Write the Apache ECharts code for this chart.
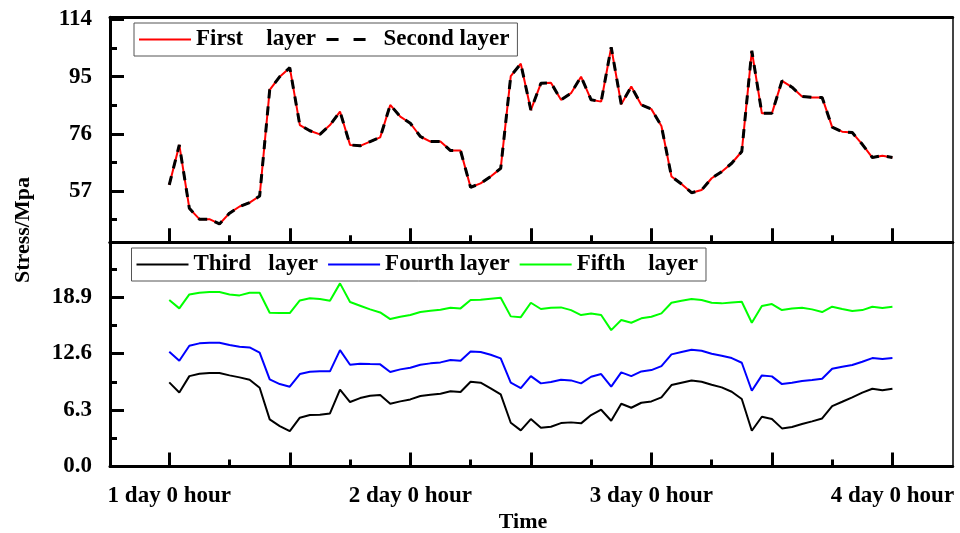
<!DOCTYPE html>
<html>
<head>
<meta charset="utf-8">
<script src="https://cdn.jsdelivr.net/npm/echarts@6/dist/echarts.min.js"></script>
<style>
  html, body { margin: 0; padding: 0; background: #fff; }
  #chart { width: 960px; height: 533px; }
</style>
</head>
<body>
<div id="chart"></div>
<script>
// Hourly stress readings over three days, five layers.
const hours = Array.from({ length: 73 }, (_, i) => i);

const firstLayer = [
  59.0, 72.3, 51.2, 47.6, 47.6, 46.0, 49.6, 51.8, 53.1, 55.3,
  90.6, 95.0, 98.0, 78.9, 77.0, 75.8, 78.9, 83.4, 72.3, 72.0,
  73.4, 74.8, 85.6, 81.7, 79.5, 75.1, 73.4, 73.4, 70.4, 70.4,
  58.2, 59.5, 61.8, 64.5, 95.2, 99.3, 83.9, 92.8, 93.0, 87.3,
  89.5, 95.0, 87.3, 86.7, 104.8, 85.8, 91.7, 85.6, 84.2, 78.6,
  61.8, 59.3, 56.4, 57.3, 61.2, 63.4, 66.2, 70.1, 103.6, 82.8,
  82.8, 93.6, 91.5, 88.4, 88.1, 88.1, 78.2, 76.7, 76.4, 72.5,
  68.1, 68.7, 68.1
];
const secondLayer = [
  59.0, 72.3, 51.2, 47.6, 47.6, 46.0, 49.6, 51.8, 53.1, 55.3,
  90.6, 95.0, 98.0, 78.9, 77.0, 75.8, 78.9, 83.4, 72.3, 72.0,
  73.4, 74.8, 85.6, 81.7, 79.5, 75.1, 73.4, 73.4, 70.4, 70.4,
  58.2, 59.5, 61.8, 64.5, 95.2, 99.3, 83.9, 92.8, 93.0, 87.3,
  89.5, 95.0, 87.3, 86.7, 104.8, 85.8, 91.7, 85.6, 84.2, 78.6,
  61.8, 59.3, 56.4, 57.3, 61.2, 63.4, 66.2, 70.1, 103.6, 82.8,
  82.8, 93.6, 91.5, 88.4, 88.1, 88.1, 78.2, 76.7, 76.4, 72.5,
  68.1, 68.7, 68.1
];
const thirdLayer = [
  9.38, 8.26, 10.08, 10.34, 10.42, 10.42, 10.16, 9.94, 9.68, 8.78,
  5.25, 4.51, 3.95, 5.44, 5.74, 5.77, 5.92, 8.56, 7.19, 7.63,
  7.89, 7.97, 7.00, 7.26, 7.48, 7.86, 8.00, 8.12, 8.38, 8.30,
  9.45, 9.34, 8.71, 8.04, 4.88, 4.03, 5.29, 4.32, 4.43, 4.84,
  4.92, 4.81, 5.74, 6.33, 5.10, 7.00, 6.55, 7.11, 7.26, 7.71,
  9.08, 9.34, 9.60, 9.45, 9.12, 8.82, 8.34, 7.52, 3.99, 5.55,
  5.29, 4.25, 4.40, 4.73, 5.03, 5.36, 6.74, 7.22, 7.71, 8.23,
  8.67, 8.49, 8.67
];
const fourthLayer = [
  12.80, 11.79, 13.47, 13.73, 13.80, 13.80, 13.54, 13.36, 13.28, 12.69,
  9.71, 9.19, 8.90, 10.31, 10.57, 10.61, 10.61, 12.98, 11.35, 11.46,
  11.42, 11.39, 10.53, 10.83, 11.01, 11.35, 11.50, 11.61, 11.87, 11.79,
  12.83, 12.76, 12.46, 12.05, 9.34, 8.75, 10.08, 9.27, 9.42, 9.68,
  9.60, 9.27, 10.01, 10.31, 8.90, 10.49, 10.08, 10.60, 10.75, 11.20,
  12.50, 12.76, 13.02, 12.91, 12.57, 12.35, 12.09, 11.57, 8.45, 10.16,
  10.05, 9.19, 9.34, 9.53, 9.64, 9.79, 10.90, 11.12, 11.31, 11.68,
  12.09, 11.98, 12.09
];
const fifthLayer = [
  18.56, 17.63, 19.19, 19.38, 19.45, 19.45, 19.19, 19.08, 19.38, 19.38,
  17.15, 17.11, 17.11, 18.52, 18.75, 18.67, 18.49, 20.42, 18.34, 17.93,
  17.52, 17.18, 16.44, 16.70, 16.89, 17.22, 17.37, 17.48, 17.70, 17.63,
  18.56, 18.60, 18.71, 18.82, 16.74, 16.65, 18.26, 17.56, 17.70, 17.74,
  17.44, 16.89, 17.07, 16.89, 15.21, 16.33, 16.03, 16.52, 16.70, 17.07,
  18.26, 18.49, 18.67, 18.56, 18.26, 18.19, 18.30, 18.37, 16.03, 17.89,
  18.11, 17.44, 17.63, 17.70, 17.52, 17.22, 17.82, 17.56, 17.33, 17.44,
  17.82, 17.67, 17.82
];

// Axis ticks and labels
const xMajorTicks = [0, 12, 24, 36, 48, 60, 72];
const xMinorTicks = [6, 18, 30, 42, 54, 66];
const xLabelHours = [0, 24, 48, 72];
const xLabelTexts = ['1 day 0 hour', '2 day 0 hour', '3 day 0 hour', '4 day 0 hour'];
const upperMajorTicks = [57, 76, 95, 114];
const upperMinorTicks = [47.5, 66.5, 85.5, 104.5];
const lowerMajorTicks = [0, 6.3, 12.6, 18.9];
const lowerMinorTicks = [3.15, 9.45, 15.75, 22.05];

const seriesNames = ['First    layer', 'Second layer', 'Third   layer', 'Fourth layer', 'Fifth    layer'];

const FONT = '"Liberation Serif", "Times New Roman", serif';
const textBase = { fontFamily: FONT, fontWeight: 'bold', fontSize: 23, color: '#000' };

const pairs = arr => hours.map((h, i) => [h, arr[i]]);

const X_MIN = -5.9, X_MAX = 78;
const UP_MIN = 39.9, UP_MAX = 114.75;
const LO_MIN = 0, LO_MAX = 25.0;

function xAxisPair(gridIndex, withLabels) {
  return [
    {
      type: 'value', gridIndex, position: 'bottom', min: X_MIN, max: X_MAX,
      axisLine: { show: true, onZero: false, lineStyle: { color: '#000', width: 3 } },
      axisTick: { show: true, inside: true, length: 14, customValues: xMajorTicks, lineStyle: { color: '#000', width: 3 } },
      axisLabel: withLabels ? {
        show: true, margin: 18, customValues: xLabelHours, ...textBase,
        formatter: v => xLabelTexts[xLabelHours.indexOf(Math.round(v))] || ''
      } : { show: false },
      splitLine: { show: false }
    },
    {
      type: 'value', gridIndex, position: 'bottom', min: X_MIN, max: X_MAX,
      axisLine: { show: false, onZero: false },
      axisTick: { show: true, inside: true, length: 7, customValues: xMinorTicks, lineStyle: { color: '#000', width: 3 } },
      axisLabel: { show: false },
      splitLine: { show: false }
    },
    {
      type: 'value', gridIndex, position: 'top', min: X_MIN, max: X_MAX,
      axisLine: { show: true, onZero: false, lineStyle: { color: '#000', width: 3 } },
      axisTick: { show: false }, axisLabel: { show: false }, splitLine: { show: false }
    }
  ];
}

function yAxisSet(gridIndex, min, max, major, minor, fmt) {
  return [
    {
      type: 'value', gridIndex, position: 'left', min, max,
      axisLine: { show: true, onZero: false, lineStyle: { color: '#000', width: 3 } },
      axisTick: { show: true, inside: true, length: 14, customValues: major, lineStyle: { color: '#000', width: 3 } },
      axisLabel: { show: true, margin: 18, customValues: major, formatter: fmt, ...textBase },
      splitLine: { show: false }
    },
    {
      type: 'value', gridIndex, position: 'left', min, max,
      axisLine: { show: false, onZero: false },
      axisTick: { show: true, inside: true, length: 7, customValues: minor, lineStyle: { color: '#000', width: 3 } },
      axisLabel: { show: false }, splitLine: { show: false }
    },
    {
      type: 'value', gridIndex, position: 'right', min, max,
      axisLine: { show: true, onZero: false, lineStyle: { color: '#444', width: 2 } },
      axisTick: { show: false }, axisLabel: { show: false }, splitLine: { show: false }
    }
  ];
}

const lineSeries = (name, data, xAxisIndex, yAxisIndex, color, width, type) => ({
  name, type: 'line', data: pairs(data), xAxisIndex, yAxisIndex,
  symbol: 'none', showSymbol: false, silent: true,
  lineStyle: { color, width, type: type || 'solid' },
  itemStyle: { color },
  z: 3
});

const legendBase = {
  orient: 'horizontal', itemWidth: 52, itemHeight: 14, itemGap: 9,
  borderColor: '#555', borderWidth: 1, borderRadius: 0,
  padding: [5, 8, 5, 4], backgroundColor: '#fff',
  itemStyle: { opacity: 0 },
  textStyle: { ...textBase }, selectedMode: false
};

const option = {
  animation: false,
  backgroundColor: '#fff',
  grid: [
    { left: 110, right: 7.3, top: 17.3, height: 225, containLabel: false, outerBoundsMode: 'none' },
    { left: 110, right: 7.3, top: 242.3, height: 224.2, containLabel: false, outerBoundsMode: 'none' }
  ],
  xAxis: [...xAxisPair(0, false), ...xAxisPair(1, true)],
  yAxis: [
    ...yAxisSet(0, UP_MIN, UP_MAX, upperMajorTicks, upperMinorTicks, v => String(Math.round(v))),
    ...yAxisSet(1, LO_MIN, LO_MAX, lowerMajorTicks, lowerMinorTicks, v => Number(v).toFixed(1))
  ],
  legend: [
    {
      ...legendBase, left: 134, top: 23,
      data: [
        { name: seriesNames[0] },
        { name: seriesNames[1], lineStyle: { type: [12, 15], width: 3, color: '#000' } }
      ]
    },
    {
      ...legendBase, left: 131.5, top: 248,
      data: [seriesNames[2], seriesNames[3], seriesNames[4]]
    }
  ],
  graphic: [
    {
      type: 'text', x: 23, y: 230, rotation: Math.PI / 2,
      style: { text: 'Stress/Mpa', font: 'bold 22px ' + FONT, fill: '#000', align: 'center', verticalAlign: 'middle' }
    },
    {
      type: 'text', x: 523, y: 522,
      style: { text: 'Time', font: 'bold 22px ' + FONT, fill: '#000', align: 'center', verticalAlign: 'middle' }
    }
  ],
  series: [
    lineSeries(seriesNames[0], firstLayer, 0, 0, '#ff0000', 2),
    lineSeries(seriesNames[1], secondLayer, 0, 0, '#000000', 3, [9, 8]),
    lineSeries(seriesNames[2], thirdLayer, 3, 3, '#000000', 2),
    lineSeries(seriesNames[3], fourthLayer, 3, 3, '#0000ff', 2),
    lineSeries(seriesNames[4], fifthLayer, 3, 3, '#00ff00', 2)
  ]
};

const chart = echarts.init(document.getElementById('chart'), null, { renderer: 'canvas' });
chart.setOption(option);
</script>
</body>
</html>
